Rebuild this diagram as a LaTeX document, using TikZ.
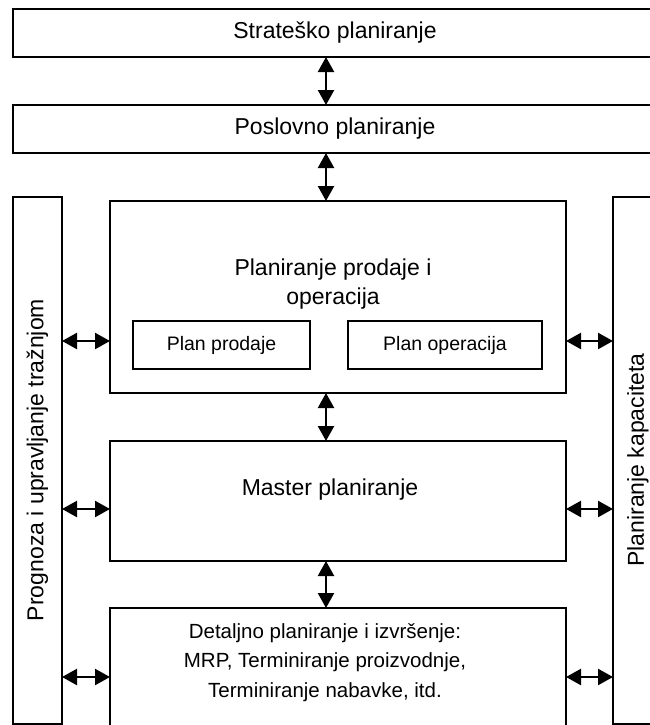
\documentclass[tikz,border=0pt]{standalone}
\usepackage{fontspec}
\setmainfont{Liberation Sans}
\usetikzlibrary{arrows.meta,calc}

\tikzset{
  box/.style={draw, line width=2pt, outer sep=0pt, inner sep=0pt, anchor=north west},
  txt/.style={inner sep=0pt, align=center, font=\fontsize{23}{29}\selectfont},
  smalltxt/.style={inner sep=0pt, align=center, font=\fontsize{19.5}{24}\selectfont},
  detailtxt/.style={inner sep=0pt, align=center, font=\fontsize{20.5}{29.5}\selectfont},
  biarrow/.style={line width=2.3pt, {Triangle[width=16pt,length=15pt]}-{Triangle[width=16pt,length=15pt]}},
}

\begin{document}
\begin{tikzpicture}[x=1pt,y=-1pt]
\useasboundingbox (0,0) rectangle (650,725);
\clip (0,0) rectangle (650,725);

% planning levels, top to bottom
\node[box, minimum width=646pt, minimum height=48pt] (strat) at (13,9) {};
\node[txt] (stratT) at (335,33) {Strateško planiranje};

\node[box, minimum width=646pt, minimum height=48pt] (posl) at (13,105) {};
\node[txt] (poslT) at (335,129) {Poslovno planiranje};

% side columns
\node[box, minimum width=49pt, minimum height=527pt] (prog) at (13,197) {};
\node[txt, rotate=90] (progT) at (37.5,460) {Prognoza i upravljanje tražnjom};

\node[box, minimum width=50pt, minimum height=527pt] (kap) at (613,197) {};
\node[txt, rotate=90] (kapT) at (638,460) {Planiranje kapaciteta};

% sales and operations planning
\node[box, minimum width=456pt, minimum height=192pt] (sop) at (110,201) {};
\node[txt] (sopT) at (333,284.5) {Planiranje prodaje i\\operacija};
\node[box, minimum width=177pt, minimum height=48pt] (pp) at (133,321) {};
\node[smalltxt] (ppT) at (221.5,345) {Plan prodaje};
\node[box, minimum width=194pt, minimum height=48pt] (po) at (348,321) {};
\node[smalltxt] (poT) at (445,345) {Plan operacija};

% master planning
\node[box, minimum width=456pt, minimum height=120pt] (mps) at (110,441) {};
\node[txt] (mpsT) at (330,490) {Master planiranje};

% detailed planning and execution
\node[box, minimum width=456pt, minimum height=125pt] (det) at (110,608) {};
\node[detailtxt] (detT) at (325,662.5) {Detaljno planiranje i izvršenje:\\MRP, Terminiranje proizvodnje,\\Terminiranje nabavke, itd.};

% connector guides
\coordinate (vx) at (326,0);
\coordinate (h1) at (0,341);
\coordinate (h2) at (0,509);
\coordinate (h3) at (0,677);

% vertical links
\draw[biarrow] (strat.south -| vx) -- (posl.north -| vx);
\draw[biarrow] (posl.south -| vx) -- (sop.north -| vx);
\draw[biarrow] (sop.south -| vx) -- (mps.north -| vx);
\draw[biarrow] (mps.south -| vx) -- (det.north -| vx);

% links to the side columns
\draw[biarrow] (prog.east |- h1) -- (sop.west |- h1);
\draw[biarrow] (prog.east |- h2) -- (mps.west |- h2);
\draw[biarrow] (prog.east |- h3) -- (det.west |- h3);
\draw[biarrow] (sop.east |- h1) -- (kap.west |- h1);
\draw[biarrow] (mps.east |- h2) -- (kap.west |- h2);
\draw[biarrow] (det.east |- h3) -- (kap.west |- h3);
\end{tikzpicture}
\end{document}
